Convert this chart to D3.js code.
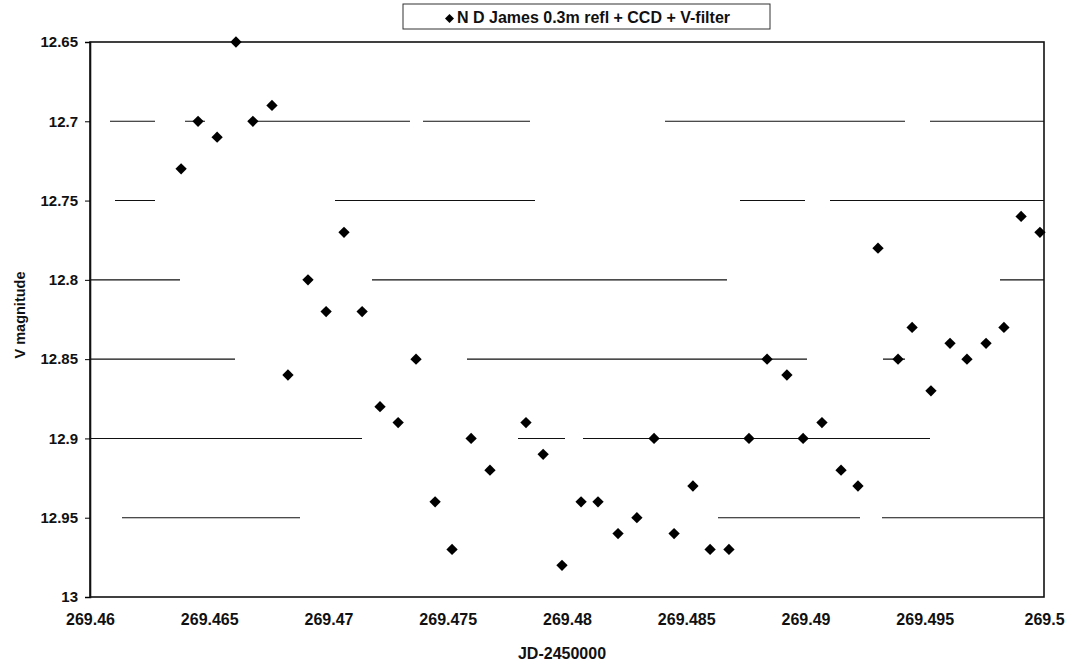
<!DOCTYPE html>
<html><head><meta charset="utf-8">
<script src="https://cdn.jsdelivr.net/npm/d3@7"></script>
<style>body{margin:0;background:#fff}svg{display:block}text{font-family:"Liberation Sans",Arial,sans-serif;font-weight:bold;fill:#111}</style>
</head><body><svg id="c" width="1067" height="661"></svg>
<script>
const jd = [269.46382,269.46453,269.46533,269.46612,269.46683,269.46763,269.4683,269.46914,269.4699,269.47065,269.47141,269.47216,269.47292,269.47367,269.47447,269.47518,269.47598,269.47677,269.47828,269.479,269.47979,269.48059,269.4813,269.48214,269.48293,269.48365,269.48449,269.48528,269.486,269.48679,269.48763,269.48839,269.48922,269.4899,269.49069,269.49149,269.4922,269.49304,269.49388,269.49447,269.49526,269.49606,269.49677,269.49757,269.49832,269.49904,269.49983];
const vmag = [12.73,12.70,12.71,12.65,12.70,12.69,12.86,12.80,12.82,12.77,12.82,12.88,12.89,12.85,12.94,12.97,12.90,12.92,12.89,12.91,12.98,12.94,12.94,12.96,12.95,12.90,12.96,12.93,12.97,12.97,12.90,12.85,12.86,12.90,12.89,12.92,12.93,12.78,12.85,12.83,12.87,12.84,12.85,12.84,12.83,12.76,12.77];
const xTicks = [269.46,269.465,269.47,269.475,269.48,269.485,269.49,269.495,269.5];
const yTicks = [12.65,12.7,12.75,12.8,12.85,12.9,12.95,13];
const seriesName = "N D James 0.3m refl + CCD + V-filter";
const xTitle = "JD-2450000";
const yTitle = "V magnitude";

// scanned-look gridline dash styles (one per inner gridline)
const gridDash = {
  "12.7":  "0,20,45,30,20,43,162,13,107,135,240,25,114",
  "12.75": "0,25,40,180,200,205,65,25,215",
  "12.8":  "90,192,355,273,45",
  "12.85": "145,232,340,76,22,200",
  "12.9":  "272,156,47,18,347,120",
  "12.95": "0,32,178,418,142,22,162"
};

const svg = d3.select("#c");
const L=90, R=1044, T=42, B=597;
const x = d3.scaleLinear().domain([269.46,269.5]).range([L,R]);
const y = d3.scaleLinear().domain([12.65,13]).range([T,B]);

// gridlines
svg.append("g").selectAll("line").data(yTicks.slice(1,-1)).join("line")
  .attr("x1",L).attr("x2",R).attr("y1",d=>y(d)).attr("y2",d=>y(d))
  .attr("stroke","#111").attr("stroke-width",1.1)
  .attr("stroke-dasharray",d=>gridDash[String(d)]);

// plot border
svg.append("rect").attr("x",L).attr("y",T).attr("width",R-L).attr("height",B-T)
  .attr("fill","none").attr("stroke","#111").attr("stroke-width",1.6);

// y axis
const ya = d3.axisLeft(y).tickValues(yTicks).tickSize(5).tickFormat(d=>String(+d.toFixed(2)));
const gy = svg.append("g").attr("transform",`translate(${L},0)`).call(ya);
gy.select(".domain").attr("stroke","#111").attr("stroke-width",1.6);
gy.selectAll("text").attr("font-size",15).attr("x",-12).attr("font-family","Liberation Sans, Arial").attr("font-weight","bold").attr("fill","#111");

// x axis
const xa = d3.axisBottom(x).tickValues(xTicks).tickSize(0).tickFormat(d=>String(+d.toFixed(3)));
const gx = svg.append("g").attr("transform",`translate(0,${B})`).call(xa);
gx.select(".domain").remove();
gx.selectAll("text").attr("font-size",16).attr("y",17).attr("dy","0.71em").attr("font-family","Liberation Sans, Arial").attr("font-weight","bold").attr("fill","#111");

// titles
svg.append("text").attr("x",562).attr("y",659).attr("text-anchor","middle").attr("font-size",16).text(xTitle);
svg.append("text").attr("transform",`translate(25,315) rotate(-90)`).attr("text-anchor","middle").attr("font-size",14.5).text(yTitle);

// points
const sym = d3.symbol().type(d3.symbolSquare).size(64);
svg.append("g").selectAll("path").data(jd.map((d,i)=>[d,vmag[i]])).join("path")
  .attr("d",sym).attr("fill","#000")
  .attr("transform",d=>`translate(${x(d[0])},${y(d[1])}) rotate(45)`);

// legend
const lg = svg.append("g");
lg.append("rect").attr("x",403).attr("y",4).attr("width",367).attr("height",25).attr("fill","#fff").attr("stroke","#333").attr("stroke-width",1);
lg.append("path").attr("d",d3.symbol().type(d3.symbolSquare).size(40)).attr("transform","translate(449.5,18.5) rotate(45)").attr("fill","#000");
lg.append("text").attr("x",457).attr("y",23).attr("font-size",16).text(seriesName);
</script></body></html>
